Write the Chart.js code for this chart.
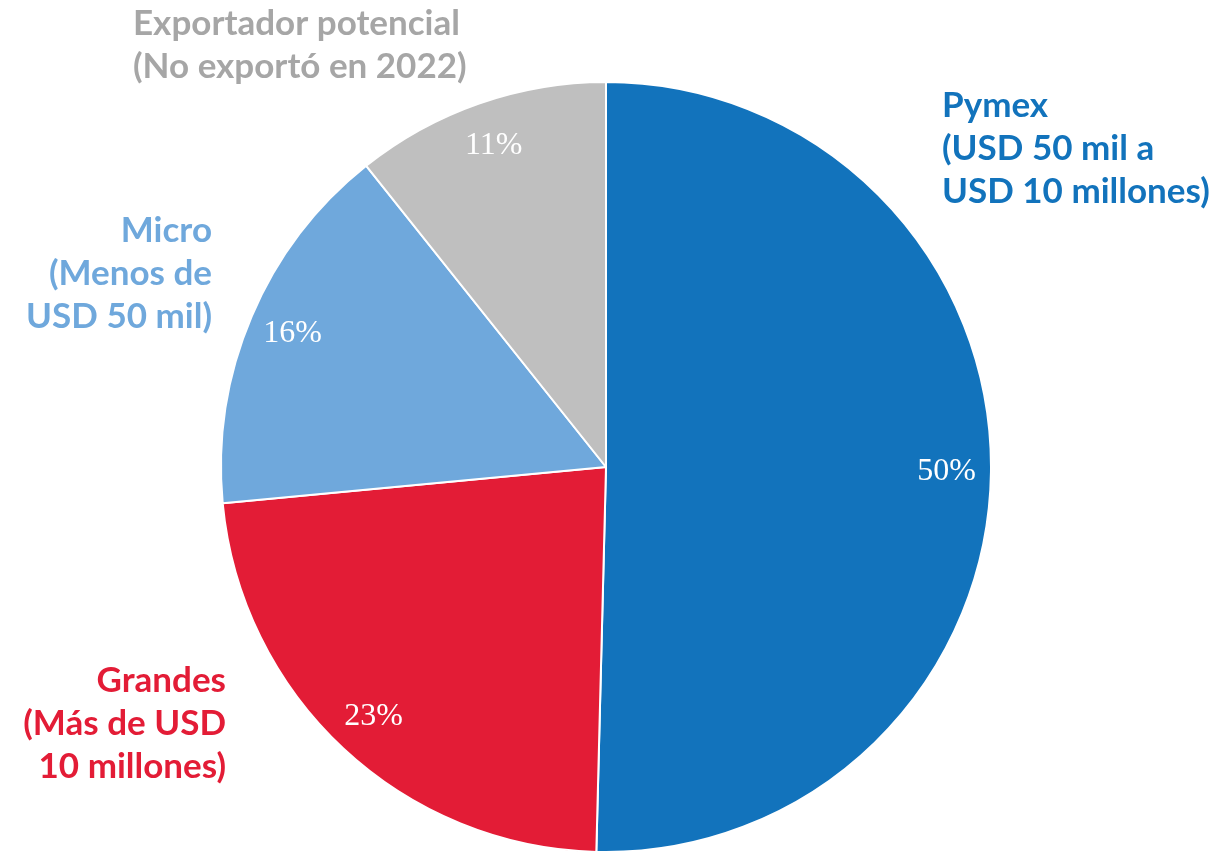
<!DOCTYPE html>
<html>
<head>
<meta charset="utf-8">
<script src="https://cdn.jsdelivr.net/npm/chart.js@4.4.0/dist/chart.umd.min.js"></script>
<style>
  html, body { margin: 0; padding: 0; background: #fff; }
  #wrap { width: 1224px; height: 853px; }
</style>
</head>
<body>
<div id="wrap"><canvas id="pieChart" width="1224" height="853"></canvas></div>
<script>
// categories and values (share of exporters, %)
const categories = ['Pymex', 'Grandes', 'Micro', 'Exportador potencial'];
const shares = [50.4, 23.1, 15.8, 10.7];
const sliceColors = ['#1273BC', '#E31C36', '#6FA8DC', '#BFBFBF'];

// outer text labels, one block per slice
const outerLabels = [
    ['Pymex', '(USD 50 mil a', 'USD 10 millones)'],
    ['Grandes', '(Más de USD', '10 millones)'],
    ['Micro', '(Menos de', 'USD 50 mil)'],
    ['Exportador potencial', '(No exportó en 2022)']
];
const labelColors = ['#1273BC', '#E31C36', '#6FA8DC', '#A6A6A6'];
// anchor of each block: x, first baseline, alignment
const labelAnchors = [
    { x: 942, y: 117, align: 'left' },
    { x: 226, y: 692, align: 'right' },
    { x: 212, y: 242, align: 'right' },
    { x: 133, y: 35, align: 'left' }
];

// draws percent values inside the slices and the outer labels
const pieText = {
    id: 'pieText',
    afterDatasetsDraw(chart) {
        const ctx = chart.ctx;
        const meta = chart.getDatasetMeta(0);
        ctx.save();
        meta.data.forEach((arc, i) => {
            const p = arc.getProps(['x', 'y', 'startAngle', 'endAngle', 'outerRadius']);
            const mid = (p.startAngle + p.endAngle) / 2;
            const r = p.outerRadius * 0.885;
            ctx.fillStyle = '#fff';
            ctx.font = '32px "Liberation Serif"';
            ctx.textAlign = 'center';
            ctx.textBaseline = 'middle';
            ctx.fillText(Math.round(shares[i]) + '%', p.x + Math.cos(mid) * r, p.y + Math.sin(mid) * r);
        });
        outerLabels.forEach((lines, i) => {
            const a = labelAnchors[i];
            ctx.fillStyle = labelColors[i];
            ctx.font = 'bold 35px Lato';
            ctx.textAlign = a.align;
            ctx.textBaseline = 'alphabetic';
            lines.forEach((t, j) => ctx.fillText(t, a.x, a.y + j * 43));
        });
        ctx.restore();
    }
};

new Chart(document.getElementById('pieChart').getContext('2d'), {
    type: 'pie',
    data: {
        labels: categories,
        datasets: [{
            data: shares,
            backgroundColor: sliceColors,
            borderColor: '#fff',
            borderWidth: 2
        }]
    },
    options: {
        responsive: false,
        animation: false,
        layout: { padding: { left: 219, right: 231, top: 81, bottom: 0 } },
        plugins: {
            legend: { display: false },
            tooltip: { enabled: false }
        }
    },
    plugins: [pieText]
});
</script>
</body>
</html>
